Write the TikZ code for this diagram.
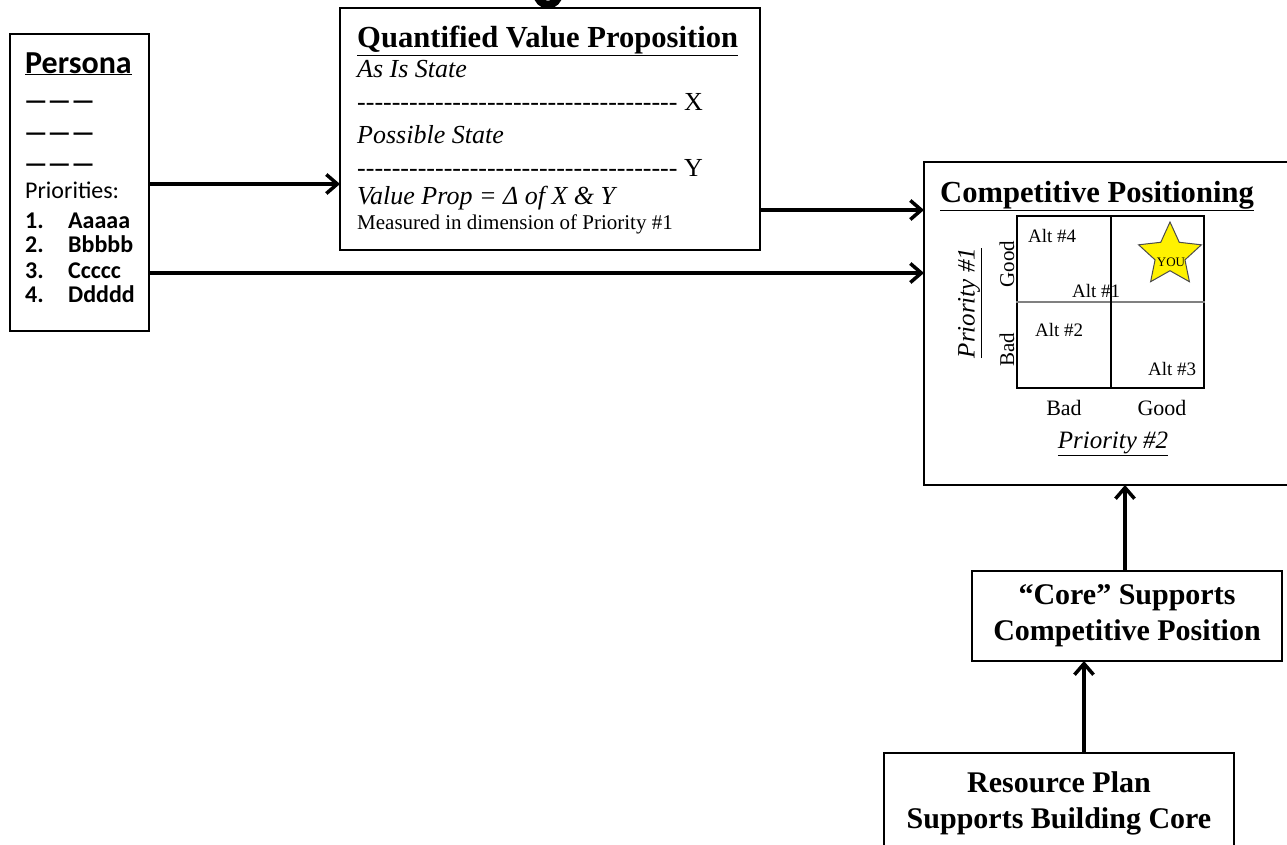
\documentclass[tikz,border=0pt]{standalone}
\usepackage{fontspec}
\setmainfont{Liberation Serif}
\newfontfamily\calibri{Carlito}
\usetikzlibrary{arrows.meta,shapes.geometric}
\newcommand{\fs}[1]{\fontsize{#1}{#1}\selectfont}
\newcommand{\hyphens}[1]{\foreach \k in {1,...,#1}{-\kern0pt}}

\tikzset{
  box/.style={draw, line width=2, inner sep=0, outer sep=0},
  arr/.style={line width=4, -{Straight Barb[length=11,width=19,line width=3.5]}},
  txt/.style={anchor=base west, inner sep=0},
  ttl/.style={txt, font=\fs{30.6}\bfseries},
  pers/.style={txt, font=\calibri\fs{24}},
  ital/.style={txt, font=\fs{26}\itshape},
  alt/.style={txt, font=\fs{19}},
  axis/.style={anchor=base, inner sep=0, font=\fs{22}},
}

\begin{document}
\begin{tikzpicture}[x=1pt,y=-1pt]
\useasboundingbox (0,0) rectangle (1287,844);

% boxes
\node[box, minimum width=139, minimum height=297] (persona) at (79.5,182.5) {};
\node[box, minimum width=420, minimum height=242] (qvp) at (550,129) {};
\node[box, minimum width=376, minimum height=323] (comp) at (1112,323.5) {};
\node[box, minimum width=310, minimum height=90, align=center,
      font=\fontsize{30}{36}\selectfont\bfseries] (core) at (1127,616)
      {“Core” Supports\\Competitive Position};
\node[box, minimum width=350, minimum height=100, align=center,
      font=\fontsize{30}{36}\selectfont\bfseries] (res) at (1059,803)
      {Resource Plan\\Supports Building Core};

% persona
\node[pers, font=\calibri\fs{32}\bfseries] (ptitle) at (25,73) {\underline{Persona}};
\foreach \y in {109,141,172}
  \node[pers, font=\calibri\fs{26}\bfseries] at (24,\y) {———};
\node[pers] (prio) at (25,198) {Priorities:};
\foreach \n/\w/\y in {1/Aaaaa/228, 2/Bbbbb/252, 3/Ccccc/278, 4/Ddddd/302} {
  \node[pers, font=\calibri\fs{24}\bfseries] at (25,\y) {\n.};
  \node[pers, font=\calibri\fs{24}\bfseries] at (68,\y) {\w};
}

% value proposition
\node[ttl] (qtitle) at (357,47) {\underline{Quantified Value Proposition}};
\node[ital] at (357,77) {As Is State};
\node[txt, font=\fs{26}] at (357,110) {\hyphens{37} X};
\node[ital] at (357,143) {Possible State};
\node[txt, font=\fs{26}] at (357,176) {\hyphens{37} Y};
\node[ital] at (357,204) {Value Prop = Δ of X \& Y};
\node[txt, font=\fs{21}] at (357,229) {Measured in dimension of Priority \#1};
\draw[line width=8] (536,-8) .. controls (539,9) and (557,9) .. (560,-8);

% competitive positioning
\node[ttl] (ctitle) at (940,202) {\underline{Competitive Positioning}};
\node[draw, line width=2, minimum width=187, minimum height=172, inner sep=0] (grid) at (1110.5,302) {};
\draw[gray, line width=1.5] (grid.west) -- (grid.east);
\draw[line width=2] (grid.north) -- (grid.south);
\node[alt] at (1028,242) {Alt \#4};
\node[alt] at (1072,297) {Alt \#1};
\node[alt] at (1035,336) {Alt \#2};
\node[alt] at (1148,375) {Alt \#3};
\node[star, star points=5, star point ratio=2.1, minimum size=66, inner sep=0,
      fill=yellow, draw=black!70, line width=1] (you) at (1170,255) {};
\node[font=\fs{13}, inner sep=0] at (1171,262) {YOU};
\node[rotate=90, inner sep=0, font=\fs{21}] at (1007,264) {Good};
\node[rotate=90, inner sep=0, font=\fs{21}] at (1007,350) {Bad};
\node[rotate=90, inner sep=0, font=\fs{25}\itshape] at (970,303) {\underline{Priority \#1}};
\node[axis] at (1064,415) {Bad};
\node[axis] at (1162,415) {Good};
\node[axis, font=\fs{25}\itshape] at (1113,448) {\underline{Priority \#2}};

% connectors
\coordinate (a1) at (0,184);
\coordinate (a2) at (0,210);
\coordinate (a3) at (0,273);
\coordinate (rc) at (1084,0);
\draw[arr] (persona.east |- a1) -- (qvp.west |- a1);
\draw[arr] (qvp.east |- a2) -- (comp.west |- a2);
\draw[arr] (persona.east |- a3) -- (comp.west |- a3);
\draw[arr] (core.north -| 1125,0) -- (comp.south -| 1125,0);
\draw[arr] (rc |- res.north) -- (rc |- core.south);
\end{tikzpicture}
\end{document}
